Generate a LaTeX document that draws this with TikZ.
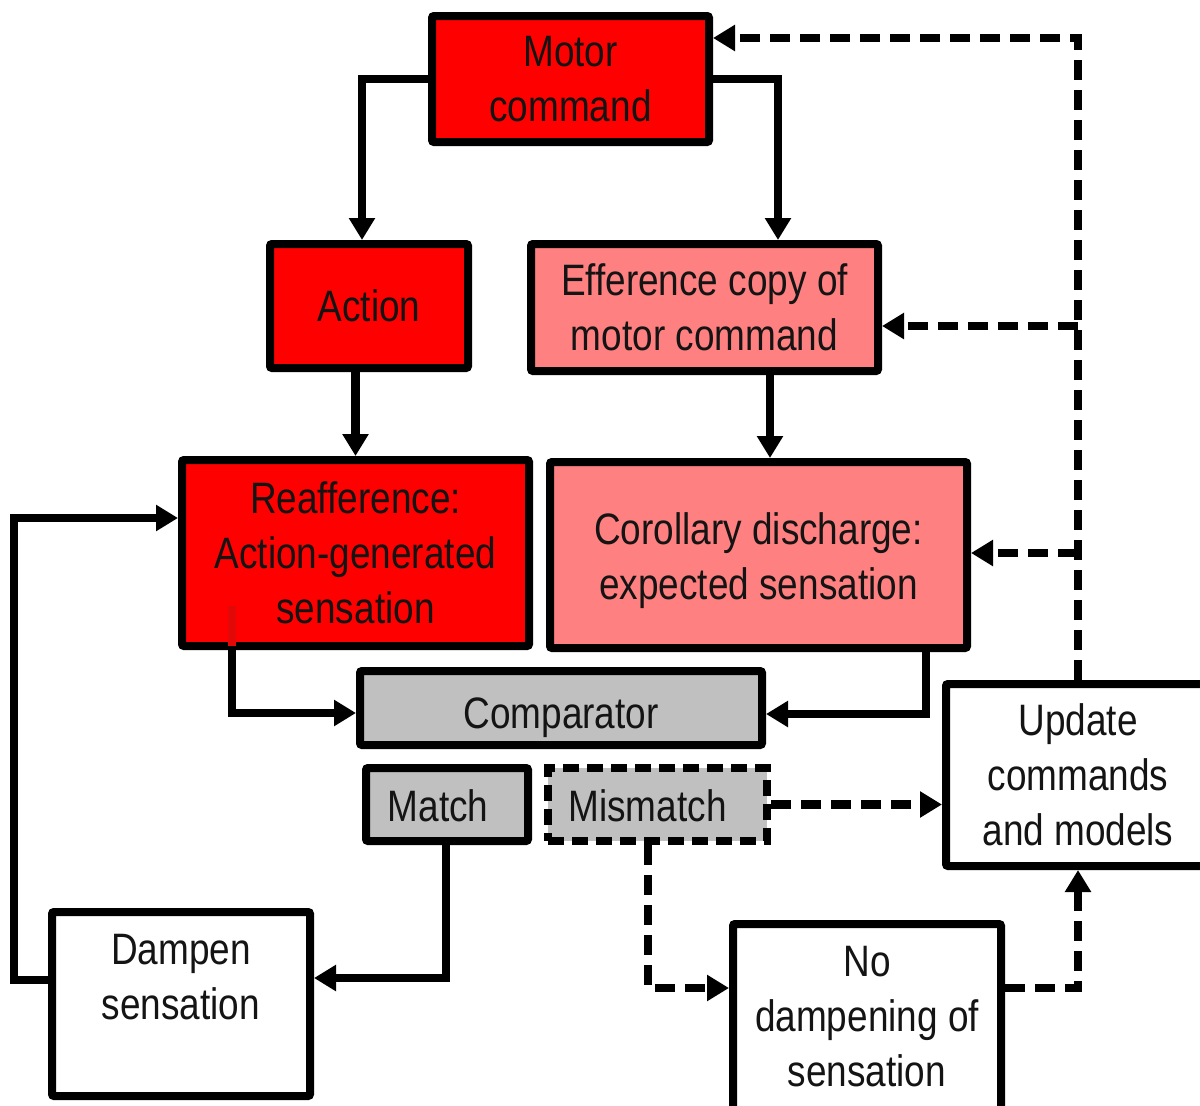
\documentclass[tikz,border=0pt]{standalone}
\usepackage{fontspec}
\setmainfont{Liberation Sans}[FakeStretch=0.84]
\usetikzlibrary{arrows.meta,calc}
\definecolor{cmdred}{HTML}{FF0000}
\definecolor{seamred}{HTML}{E20808}
\definecolor{copypink}{HTML}{FF8080}
\definecolor{cmpgray}{HTML}{C0C0C0}
% one-line label whose baseline sits the given distance below the box centre
\newcommand{\lowline}[2]{\smash{\raisebox{-#1}{#2}}}
\begin{document}
\begin{tikzpicture}[x=1pt,y=-1pt,
  box/.style={draw=black, line width=8pt, rounded corners=2pt, inner sep=0pt,
    align=center, text=black!92, font=\fontsize{44}{55}\selectfont},
  conn/.style={line width=8.5pt, line join=miter, -{Triangle[length=22pt,width=25pt]}},
  dconn/.style={conn, dash pattern=on 20pt off 10pt}]
\useasboundingbox (0,0) rectangle (1200,1106);
\clip (0,0) rectangle (1200,1106);

% boxes
\node[box, fill=cmdred, minimum width=277pt, minimum height=126pt] (motor) at (570.5,79) {Motor\\command};
\node[box, fill=cmdred, minimum width=198pt, minimum height=124pt] (action) at (369,306) {Action};
\node[box, fill=copypink, minimum width=347pt, minimum height=127pt] (efference) at (704.5,307.5) {Efference copy of\\motor command};
\node[box, fill=cmdred, minimum width=347pt, minimum height=186pt] (reaff) at (355.5,553) {Reafference:\\Action-generated\\sensation};
\node[box, fill=copypink, minimum width=417pt, minimum height=186pt] (corollary) at (758.5,555) {\rule{0pt}{44pt}Corollary discharge:\\expected sensation};
\node[box, fill=cmpgray, minimum width=402pt, minimum height=74pt] (comparator) at (561,708) {\lowline{20pt}{Comparator}};
\node[box, fill=cmpgray, minimum width=162pt, minimum height=73pt] (match) at (447,804.5) {\lowline{17pt}{\hspace*{-18pt}Match}};
\node[box, fill=cmpgray, rounded corners=0pt, dash pattern=on 16pt off 8pt, minimum width=219pt, minimum height=73pt] (mismatch) at (657.5,804.5) {\lowline{17pt}{\hspace*{-20pt}Mismatch}};
\node[box, fill=white, minimum width=264pt, minimum height=182pt] (update) at (1078,775) {Update\\commands\\and models};
\node[box, fill=white, minimum width=258pt, minimum height=184pt] (dampen) at (181,1004) {Dampen\\sensation\\~};
\node[box, fill=white, minimum width=268pt, minimum height=186pt] (nodamp) at (867,1017) {No\\dampening of\\sensation};

% faint seam inside the reafference box
\draw[line width=8pt, seamred] ($(reaff.south)+(-123.5,-4)$) -- ++(0,-40);

% solid connectors
\draw[conn] (motor.west) -| ($(action.north)+(-7,0)$);
\draw[conn] (motor.east) -| ($(efference.north)+(73.5,0)$);
\draw[conn] (reaff.north |- action.south) -- (reaff.north);
\coordinate (cdin) at ($(corollary.north)+(11.5,0)$);
\draw[conn] (cdin |- efference.south) -- (cdin);
\draw[conn] ($(reaff.south)+(-123.5,0)$) |- ($(comparator.west)+(0,5)$);
\draw[conn] ($(corollary.south)+(167.5,0)$) |- ($(comparator.east)+(0,6)$);
\draw[conn] ($(match.south)+(-1,0)$) |- ($(dampen.east)+(0,-26)$);
\draw[conn] ($(dampen.west)+(0,-24)$) -- ++(-34,0) |- ($(reaff.west)+(0,-35)$);

% dashed connectors
\draw[dconn] (mismatch.east) -- (mismatch.east -| update.west);
\draw[dconn] ($(mismatch.south)+(-9.5,0)$) |- ($(nodamp.west)+(0,-29)$);
\draw[dconn] ($(nodamp.east)+(0,-29)$) -| (update.south);
\draw[dconn] (update.north) |- ($(motor.east)+(0,-41)$);
\coordinate (efin) at ($(efference.east)+(0,18.5)$);
\draw[dconn] (update.north |- efin) -- (efin);
\coordinate (cdside) at ($(corollary.east)+(0,-2)$);
\draw[dconn] (update.north |- cdside) -- (cdside);
\end{tikzpicture}
\end{document}
